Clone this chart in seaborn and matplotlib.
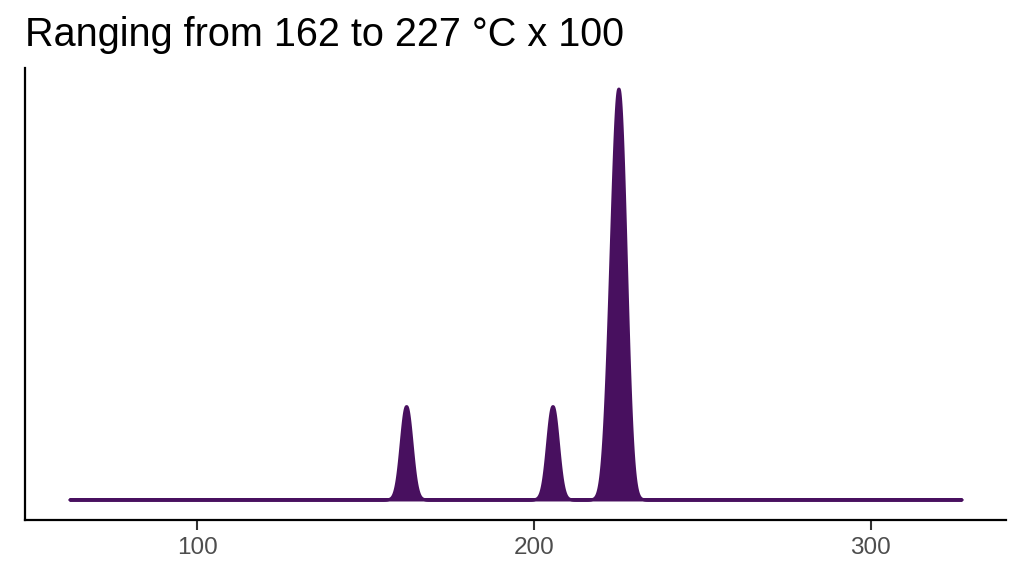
import numpy as np
import matplotlib
matplotlib.use("Agg")
import matplotlib.pyplot as plt
import seaborn as sns

# temperatures (°C x 100)
temps = [162, 205.5, 222.5, 224, 225, 225, 226, 227]
title = "Ranging from 162 to 227 °C x 100"
x_ticks = [100, 200, 300]
fill_col = "#48105f"

sigma = 1.6          # kernel width in data units
spread = 100         # density drawn 100 units beyond the data

sns.set_theme(style="white")
plt.rcParams["font.family"] = ["Liberation Sans", "DejaVu Sans"]

fig = plt.figure(figsize=(10.24, 5.76), dpi=100)
ax = fig.add_axes([25 / 1024, 56 / 576, 981 / 1024, 452 / 576])

bw = sigma / np.std(temps, ddof=1)
sns.kdeplot(x=temps, ax=ax, fill=True, bw_method=bw, cut=spread / sigma,
            gridsize=4000, color=fill_col, alpha=1, linewidth=2.2,
            edgecolor=fill_col)

# ggplot-like 5% expansion
lo, hi = min(temps) - spread, max(temps) + spread
pad = (hi - lo) * 0.05
ax.set_xlim(lo - pad, hi + pad)
ymax = max(p.vertices[:, 1].max() for p in ax.collections[0].get_paths())
ax.set_ylim(-0.05 * ymax, 1.05 * ymax)

ax.set_xticks(x_ticks)
ax.set_yticks([])
ax.set_xlabel("")
ax.set_ylabel("")
ax.tick_params(axis="x", length=7, width=1.5, color="#333333",
               labelsize=17.5, labelcolor="#4d4d4d", pad=5, bottom=True)
for s in ["top", "right"]:
    ax.spines[s].set_visible(False)
for s in ["left", "bottom"]:
    ax.spines[s].set_color("black")
    ax.spines[s].set_linewidth(1.6)

fig.text(25 / 1024, 1 - 46 / 576, title, fontsize=28.5, color="black",
         ha="left", va="baseline")

fig.savefig("out.png", dpi=100)
